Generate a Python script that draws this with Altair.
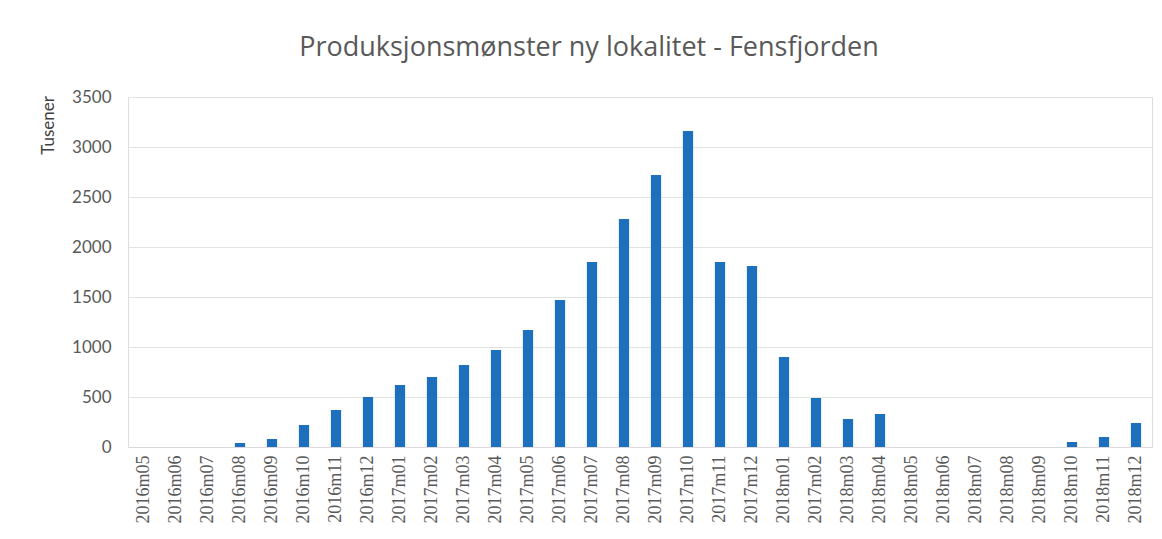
import altair as alt
import pandas as pd
import json

labels = ["2016m05", "2016m06", "2016m07", "2016m08", "2016m09", "2016m10", "2016m11", "2016m12",
          "2017m01", "2017m02", "2017m03", "2017m04", "2017m05", "2017m06", "2017m07", "2017m08",
          "2017m09", "2017m10", "2017m11", "2017m12", "2018m01", "2017m02", "2018m03", "2018m04",
          "2018m05", "2018m06", "2018m07", "2018m08", "2018m09", "2018m10", "2018m11", "2018m12"]
values = [0, 0, 0, 40, 80, 220, 370, 500,
          620, 700, 820, 970, 1170, 1470, 1850, 2280,
          2720, 3160, 1850, 1810, 900, 490, 280, 330,
          0, 0, 0, 0, 0, 50, 100, 240]
y_ticks = [0, 500, 1000, 1500, 2000, 2500, 3000, 3500]

df = pd.DataFrame({"idx": list(range(len(labels))), "value": values})
label_expr = json.dumps(labels) + "[datum.value]"

grey = "#595959"

chart = alt.Chart(df).mark_bar(color="#1f6fbf").encode(
    x=alt.X("idx:O", title=None,
            scale=alt.Scale(paddingInner=0.68, paddingOuter=0.34),
            axis=alt.Axis(labelExpr=label_expr, labelAngle=-90, labelFont="Liberation Serif",
                          labelFontSize=18, labelColor=grey, ticks=False, labelPadding=8,
                          domainColor="#d9d9d9", grid=False)),
    y=alt.Y("value:Q", title="Tusener",
            scale=alt.Scale(domain=[0, 3500], nice=False),
            axis=alt.Axis(values=y_ticks, format="d", labelFont="Lato", labelFontSize=17,
                          labelColor=grey, ticks=False, domain=False, labelPadding=17,
                          gridColor="#e3e3e3",
                          titleFont="Lato", titleFontSize=17, titleColor="#404040",
                          titleFontWeight="normal", titleAngle=270, titleX=-80, titleY=28,
                          titleAlign="center", titleBaseline="middle")),
).properties(
    width=1024, height=350,
    title=alt.TitleParams("Produksjonsmønster ny lokalitet - Fensfjorden", font="Open Sans",
                          fontSize=27, fontWeight="normal", color=grey, anchor="middle",
                          dx=-51, offset=26),
    autosize=alt.AutoSizeParams(type="none"),
    padding={"left": 120, "top": 89, "right": 2, "bottom": 84},
).configure_view(stroke=None).configure(background="white")

chart.save("out.html", embed_options={"renderer": "svg", "actions": False})
